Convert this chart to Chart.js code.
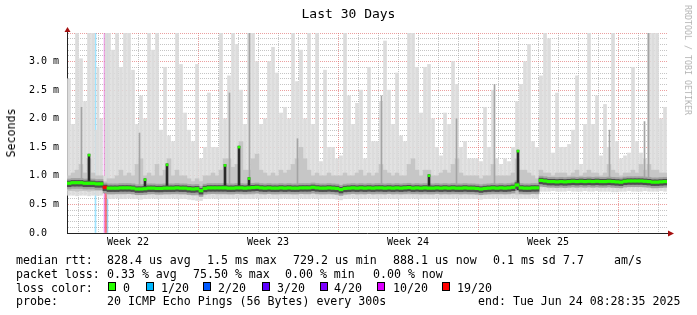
<!DOCTYPE html>
<html>
<head>
<meta charset="utf-8">
<script src="https://cdn.jsdelivr.net/npm/chart.js@4"></script>
<style>
  body { margin: 0; background: #fff; }
  #wrap { position: relative; width: 697px; height: 315px; font-family: 'DejaVu Sans Mono', monospace; color: #000; }
  #wrap canvas { position: absolute; left: 0; top: 0; }
  .t { position: absolute; white-space: pre; font-size: 11.6px; line-height: 14px; }
  .box { position: absolute; width: 6px; height: 7px; border: 1px solid #000; }
</style>
</head>
<body>
<div id="wrap">
  <canvas id="smoke" width="697" height="315"></canvas>
  <div class="t" style="left:0;top:6px;width:697px;text-align:center;font-size:13px;line-height:16px;">Last 30 Days</div>
  <div class="t" style="left:11px;top:133px;transform:translate(-50%,-50%) rotate(-90deg);font-size:11.6px;">Seconds</div>
  <div class="t" style="left:688px;top:60px;transform:translate(-50%,-50%) rotate(90deg);font-size:8.3px;color:#b4b4b4;">RRDTOOL / TOBI OETIKER</div>

  <div class="t" style="left:16px;top:252.5px">median rtt:</div>
  <div class="t" style="left:107px;top:252.5px">828.4 us avg</div>
  <div class="t" style="left:207px;top:252.5px">1.5 ms max</div>
  <div class="t" style="left:293px;top:252.5px">729.2 us min</div>
  <div class="t" style="left:393px;top:252.5px">888.1 us now</div>
  <div class="t" style="left:493px;top:252.5px">0.1 ms sd</div>
  <div class="t" style="left:563px;top:252.5px">7.7</div>
  <div class="t" style="left:614px;top:252.5px">am/s</div>

  <div class="t" style="left:16px;top:266.5px">packet loss:</div>
  <div class="t" style="left:107px;top:266.5px">0.33 % avg</div>
  <div class="t" style="left:193px;top:266.5px">75.50 % max</div>
  <div class="t" style="left:285px;top:266.5px">0.00 % min</div>
  <div class="t" style="left:373px;top:266.5px">0.00 % now</div>

  <div class="t" style="left:16px;top:280.5px">loss color:</div>
  <div id="lossLegend"></div>

  <div class="t" style="left:16px;top:293.5px">probe:</div>
  <div class="t" style="left:107px;top:293.5px">20 ICMP Echo Pings (56 Bytes) every 300s</div>
  <div class="t" style="left:478px;top:293.5px">end: Tue Jun 24 08:28:35 2025</div>
</div>
<script>
// ── Smoke data: 150 samples over 30 days (one every 0.2 day) ─────────────

// median rtt (ms)
const median = [
  0.87, 0.88, 0.88, 0.88, 0.87, 0.87, 0.87, 0.86, 0.86, 0.80,
  0.785, 0.785, 0.785, 0.79, 0.79, 0.79, 0.785, 0.77, 0.77, 0.775,
  0.785, 0.785, 0.78, 0.78, 0.785, 0.785, 0.785, 0.79, 0.785, 0.785,
  0.775, 0.77, 0.775, 0.74, 0.78, 0.79, 0.79, 0.79, 0.79, 0.79,
  0.785, 0.785, 0.79, 0.79, 0.785, 0.79, 0.795, 0.8, 0.79, 0.785,
  0.79, 0.785, 0.785, 0.79, 0.785, 0.79, 0.785, 0.785, 0.79, 0.79,
  0.79, 0.8, 0.79, 0.785, 0.785, 0.79, 0.785, 0.78, 0.76, 0.78,
  0.785, 0.79, 0.785, 0.79, 0.785, 0.79, 0.785, 0.79, 0.79, 0.785,
  0.79, 0.785, 0.79, 0.785, 0.79, 0.795, 0.785, 0.79, 0.785, 0.79,
  0.785, 0.785, 0.79, 0.785, 0.79, 0.785, 0.79, 0.785, 0.785, 0.79,
  0.785, 0.785, 0.78, 0.77, 0.78, 0.785, 0.79, 0.785, 0.79, 0.785,
  0.79, 0.8, 0.84, 0.79, 0.785, 0.785, 0.79, 0.79, 0.92, 0.91,
  0.9, 0.9, 0.895, 0.9, 0.895, 0.9, 0.905, 0.9, 0.905, 0.9,
  0.905, 0.9, 0.905, 0.9, 0.9, 0.905, 0.9, 0.895, 0.89, 0.905,
  0.91, 0.91, 0.91, 0.91, 0.905, 0.9, 0.89, 0.89, 0.895, 0.9
];

// outer smoke: slowest ping
const smokeTop = [
  2.7, 1.9, 3.5, 3.05, 2.3, 3.5, 3.5, 1.8, 2.0, 1.0,
  3.5, 3.2, 3.5, 2.9, 3.5, 3.5, 2.85, 1.9, 2.4, 2.0,
  3.5, 3.2, 3.5, 1.8, 2.9, 1.7, 1.6, 3.5, 2.95, 2.1,
  1.8, 1.6, 2.95, 1.3, 1.5, 2.45, 1.5, 1.5, 3.5, 2.0,
  2.75, 3.5, 3.3, 2.5, 1.9, 3.5, 3.5, 3.0, 1.9, 2.0,
  3.0, 3.25, 2.8, 2.1, 2.2, 2.0, 3.5, 2.65, 3.2, 2.0,
  3.5, 1.9, 3.5, 1.25, 2.85, 1.5, 1.5, 1.3, 1.35, 3.5,
  2.4, 1.9, 2.27, 2.5, 1.3, 2.9, 1.6, 1.6, 2.3, 3.36,
  2.5, 1.9, 2.8, 1.7, 1.6, 3.5, 3.5, 2.9, 2.1, 2.9,
  2.95, 2.0, 1.5, 1.35, 2.1, 1.9, 3.0, 2.6, 1.5, 1.6,
  1.3, 1.3, 1.3, 1.25, 2.2, 1.5, 2.5, 1.3, 1.2, 1.3,
  1.25, 1.5, 2.3, 2.6, 3.0, 3.3, 1.6, 1.5, 2.75, 3.5,
  3.4, 1.4, 2.45, 1.5, 1.5, 1.55, 1.8, 2.75, 1.2, 1.9,
  3.5, 1.9, 2.4, 1.35, 2.25, 1.5, 3.5, 1.6, 1.3, 1.35,
  1.4, 2.9, 1.6, 1.4, 1.3, 3.5, 3.5, 3.5, 2.0, 2.2
];

// outer smoke: fastest ping
const smokeLow = [
  0.66, 0.66, 0.65, 0.66, 0.66, 0.65, 0.66, 0.66, 0.66, 0.78,
  0.6, 0.6, 0.61, 0.6, 0.6, 0.61, 0.6, 0.6, 0.59, 0.6,
  0.6, 0.61, 0.6, 0.6, 0.6, 0.6, 0.61, 0.6, 0.6, 0.6,
  0.59, 0.58, 0.57, 0.57, 0.6, 0.6, 0.61, 0.6, 0.6, 0.6,
  0.6, 0.6, 0.61, 0.6, 0.6, 0.6, 0.6, 0.61, 0.6, 0.6,
  0.61, 0.6, 0.6, 0.6, 0.61, 0.6, 0.6, 0.6, 0.61, 0.6,
  0.6, 0.61, 0.6, 0.6, 0.6, 0.6, 0.6, 0.59, 0.58, 0.6,
  0.6, 0.61, 0.6, 0.6, 0.6, 0.61, 0.6, 0.6, 0.6, 0.6,
  0.61, 0.6, 0.6, 0.6, 0.6, 0.6, 0.61, 0.6, 0.6, 0.6,
  0.6, 0.6, 0.61, 0.6, 0.6, 0.6, 0.6, 0.61, 0.6, 0.6,
  0.6, 0.6, 0.6, 0.59, 0.6, 0.6, 0.6, 0.61, 0.6, 0.6,
  0.6, 0.61, 0.6, 0.6, 0.6, 0.6, 0.61, 0.6, 0.73, 0.73,
  0.73, 0.74, 0.73, 0.73, 0.73, 0.74, 0.73, 0.73, 0.73, 0.74,
  0.73, 0.73, 0.74, 0.73, 0.73, 0.73, 0.72, 0.72, 0.73, 0.73,
  0.74, 0.73, 0.73, 0.73, 0.74, 0.73, 0.73, 0.73, 0.74, 0.73
];

// inner smoke (2nd..19th ping)
const midTop = [
  1.0, 1.05, 1.1, 1.2, 1.05, 1.3, 1.05, 1.0, 1.0, 0.9,
  0.95, 0.95, 1.0, 1.1, 1.0, 1.05, 1.0, 1.2, 1.3, 1.0,
  1.05, 1.0, 1.2, 1.0, 1.1, 1.3, 1.0, 1.1, 1.0, 1.0,
  0.95, 0.9, 0.95, 0.9, 1.0, 1.0, 1.05, 1.0, 1.1, 1.3,
  1.3, 1.15, 1.2, 1.6, 1.1, 1.1, 1.3, 1.38, 1.1, 1.05,
  1.0, 1.05, 1.0, 1.1, 1.05, 1.1, 1.2, 1.3, 1.5, 1.3,
  1.1, 1.0, 1.05, 1.0, 1.0, 1.05, 1.0, 1.0, 1.0, 1.05,
  1.0, 1.0, 1.05, 1.1, 1.0, 1.05, 1.0, 1.05, 1.2, 1.1,
  1.05, 1.0, 1.05, 1.0, 1.0, 1.2, 1.3, 1.1, 1.0, 1.1,
  1.1, 1.0, 1.0, 1.05, 1.1, 1.05, 1.2, 1.3, 1.05, 1.0,
  1.0, 1.0, 1.0, 0.95, 1.0, 1.0, 1.2, 1.0, 1.0, 1.0,
  1.0, 1.05, 1.3, 1.1, 1.1, 1.05, 1.0, 0.95, 1.1, 1.05,
  1.05, 1.0, 1.05, 1.05, 1.05, 1.0, 1.05, 1.1, 1.0, 1.05,
  1.1, 1.05, 1.05, 1.0, 1.05, 1.2, 1.1, 1.05, 1.0, 1.05,
  1.05, 1.1, 1.05, 1.2, 1.1, 1.2, 1.1, 1.1, 1.05, 1.05
];
const midLow = [
  0.74, 0.74, 0.73, 0.74, 0.74, 0.73, 0.74, 0.74, 0.74, 0.78,
  0.68, 0.68, 0.69, 0.68, 0.68, 0.69, 0.68, 0.68, 0.67, 0.68,
  0.68, 0.69, 0.68, 0.68, 0.68, 0.68, 0.69, 0.68, 0.68, 0.68,
  0.67, 0.66, 0.66, 0.65, 0.68, 0.68, 0.69, 0.68, 0.68, 0.68,
  0.68, 0.68, 0.69, 0.68, 0.68, 0.68, 0.68, 0.69, 0.68, 0.68,
  0.69, 0.68, 0.68, 0.68, 0.69, 0.68, 0.68, 0.68, 0.69, 0.68,
  0.68, 0.69, 0.68, 0.68, 0.68, 0.68, 0.68, 0.67, 0.66, 0.68,
  0.68, 0.69, 0.68, 0.68, 0.68, 0.69, 0.68, 0.68, 0.68, 0.68,
  0.69, 0.68, 0.68, 0.68, 0.68, 0.68, 0.69, 0.68, 0.68, 0.68,
  0.68, 0.68, 0.69, 0.68, 0.68, 0.68, 0.68, 0.69, 0.68, 0.68,
  0.68, 0.68, 0.68, 0.67, 0.68, 0.68, 0.68, 0.69, 0.68, 0.68,
  0.68, 0.69, 0.68, 0.68, 0.68, 0.68, 0.69, 0.68, 0.81, 0.81,
  0.81, 0.82, 0.81, 0.81, 0.81, 0.82, 0.81, 0.81, 0.81, 0.82,
  0.81, 0.81, 0.82, 0.81, 0.81, 0.81, 0.8, 0.8, 0.81, 0.81,
  0.82, 0.81, 0.81, 0.81, 0.82, 0.81, 0.81, 0.81, 0.82, 0.81
];

// loss per sample (index into lossLabels), only where not 0
const lossAt = { 9: 6 };

// short-lived events [day, low ms, high ms]
const medianSpikes = [[1.1, 0.84, 1.38], [3.9, 0.76, 0.95], [5.0, 0.76, 1.21], [7.9, 0.76, 1.2],
                      [8.6, 0.76, 1.52], [9.1, 0.76, 0.97], [18.1, 0.76, 1.02], [22.55, 0.76, 1.45]];
const greyStreaks = [[0.725, 2.2], [3.625, 1.75], [8.125, 2.45], [9.125, 3.5], [11.525, 1.65], [15.725, 2.4],
                     [19.475, 2.0], [21.375, 2.6], [27.125, 1.8], [28.875, 1.95], [29.075, 3.5]];
const smokeStreaks = [[1.55, 0.66, 2.9], [1.95, 0.8, 3.5]];
// [day, loss index]
const lossBars = [[1.425, 1], [1.875, 5], [1.925, 6], [1.975, 6], [2.025, 1]];

const lossLabels = ['0', '1/20', '2/20', '3/20', '4/20', '10/20', '19/20'];
const lossColors = ['#26ff00', '#00b8ff', '#0059ff', '#5e00ff', '#7e00ff', '#dd00ff', '#ff0000'];
const lossFaint = ['rgba(38,255,0,0.4)', 'rgba(0,184,255,0.38)', 'rgba(0,89,255,0.38)', 'rgba(94,0,255,0.38)',
                   'rgba(126,0,255,0.38)', 'rgba(221,0,255,0.38)', 'rgba(255,0,0,0.42)'];

const weekLabels = ['Week 22', 'Week 23', 'Week 24', 'Week 25'];
const weekLabelDays = [3.05, 10.05, 17.05, 24.05];
const weekStartDays = [6.55, 13.55, 20.55, 27.55];

// ── legend boxes ─────────────────────────────────────────────────────────
const boxLeft = [108, 146, 203, 262, 320, 377, 442];
const labelLeft = [123, 161, 218, 277, 334, 393, 457];
document.getElementById('lossLegend').innerHTML = lossLabels.map((l, i) => `
  <div class="box" style="left:${boxLeft[i]}px;top:282px;background:${lossColors[i]}"></div>
  <div class="t" style="left:${labelLeft[i]}px;top:280.5px">${l}</div>`).join('');

// ── chart ────────────────────────────────────────────────────────────────
const colDay = i => 0.2 * i + 0.1;
const band = (lo, hi) => lo.map((v, i) => ({ x: colDay(i), y: [v, hi[i]] }));
const around = (d, hi) => median.map((m, i) => ({ x: colDay(i), y: [m - d, m + hi] }));

const bar = (data, color, order, thick) => ({
    data, backgroundColor: color, order, barThickness: thick, grouped: false, borderWidth: 0
});

const datasets = [
    bar(around(0.022, 0.022), ctx => lossColors[lossAt[ctx.dataIndex] || 0], 0, 4),
    bar(medianSpikes.map(s => ({ x: s[0], y: [s[2] - 0.035, s[2]] })), lossColors[0], 1, 2),
    bar(around(0.06, 0.04), '#4e4e4e', 2, 4),
    bar(medianSpikes.map(s => ({ x: s[0], y: [s[1], s[2]] })), '#2a2a2a', 3, 2),
    bar(around(0.1, 0.075), '#a2a2a2', 4, 4),
    bar(greyStreaks.map(s => ({ x: s[0], y: [0.85, s[1]] })), '#a4a4a4', 5, 1),
    bar(band(midLow, midTop), '#c6c6c6', 6, 4),
    bar(smokeStreaks.map(s => ({ x: s[0], y: [s[1], s[2]] })), '#dcdcdc', 7, 2),
    bar(band(smokeLow, smokeTop), '#dcdcdc', 8, 3),
    bar(lossBars.map(b => ({ x: b[0], y: [0, 3.5] })), ctx => lossFaint[(lossBars[ctx.dataIndex] || [0, 0])[1]], 9, 1)
];

const tickFont = { family: 'DejaVu Sans Mono', size: 10 };
const MAJOR = 'rgba(222,96,96,0.6)', MINOR = 'rgba(140,140,140,0.5)';
const isWeekStart = v => weekStartDays.some(w => Math.abs(w - v) < 1e-6);
const xGridColor = c => (c.tick && isWeekStart(c.tick.value)) ? MAJOR : MINOR;
const yGridColor = c => (c.tick && Math.round(c.tick.value * 10) % 5 === 0) ? MAJOR : MINOR;

const axisArrows = {
    id: 'axisArrows',
    afterDraw(chart) {
        const { ctx, chartArea: a } = chart;
        ctx.save();
        ctx.strokeStyle = '#222';
        ctx.lineWidth = 1;
        ctx.beginPath();
        ctx.moveTo(a.right, a.bottom + 0.5); ctx.lineTo(a.right + 2, a.bottom + 0.5);
        ctx.moveTo(a.left + 0.5, a.top); ctx.lineTo(a.left + 0.5, a.top - 2);
        ctx.stroke();
        ctx.fillStyle = '#a51010';
        ctx.beginPath();
        ctx.moveTo(a.right + 7, a.bottom + 0.5);
        ctx.lineTo(a.right + 1, a.bottom - 2.5);
        ctx.lineTo(a.right + 1, a.bottom + 3.5);
        ctx.fill();
        ctx.beginPath();
        ctx.moveTo(a.left + 0.5, a.top - 6);
        ctx.lineTo(a.left - 2.5, a.top - 1);
        ctx.lineTo(a.left + 3.5, a.top - 1);
        ctx.fill();
        ctx.restore();
    }
};

new Chart(document.getElementById('smoke'), {
    type: 'bar',
    data: { datasets },
    options: {
        responsive: false,
        animation: false,
        events: [],
        layout: { padding: { left: 0, right: 30, top: 33, bottom: 62 } },
        plugins: { legend: { display: false }, tooltip: { enabled: false } },
        scales: {
            x: {
                type: 'linear', min: 0, max: 30, position: 'bottom', z: 1, weight: 0, offset: false,
                afterBuildTicks: s => { s.ticks = Array.from({ length: 30 }, (_, k) => ({ value: k + 0.55 })); },
                afterFit: s => { s.height = 0; },
                ticks: { display: false, autoSkip: false },
                grid: { offset: false, drawTicks: false, lineWidth: 1, color: xGridColor },
                border: { color: '#222', width: 1, dash: [1, 1] }
            },
            x2: {
                type: 'linear', min: 0, max: 30, position: 'bottom', weight: 1, offset: false,
                afterBuildTicks: s => { s.ticks = weekLabelDays.map(v => ({ value: v })); },
                afterFit: s => { s.height = 20; },
                ticks: { autoSkip: false, maxRotation: 0, padding: 3, color: '#000', font: tickFont,
                         callback: (v, i) => weekLabels[i] },
                grid: { display: false, drawTicks: false, offset: false },
                border: { display: false }
            },
            y: {
                min: 0, max: 3.5, z: 1,
                afterBuildTicks: s => { s.ticks = Array.from({ length: 36 }, (_, k) => ({ value: k / 10 })); },
                afterFit: s => { s.width = 67; },
                ticks: {
                    autoSkip: false, padding: 8, color: '#000', font: tickFont,
                    callback: v => {
                        const k = Math.round(v * 10);
                        if (k % 5 || k >= 35) return '';
                        return k === 0 ? '0.0  ' : (k / 10).toFixed(1) + ' m';
                    }
                },
                grid: { drawTicks: false, lineWidth: 1, color: yGridColor },
                border: { color: '#222', width: 1, dash: [1, 1] }
            }
        }
    },
    plugins: [axisArrows]
});
</script>
</body>
</html>
